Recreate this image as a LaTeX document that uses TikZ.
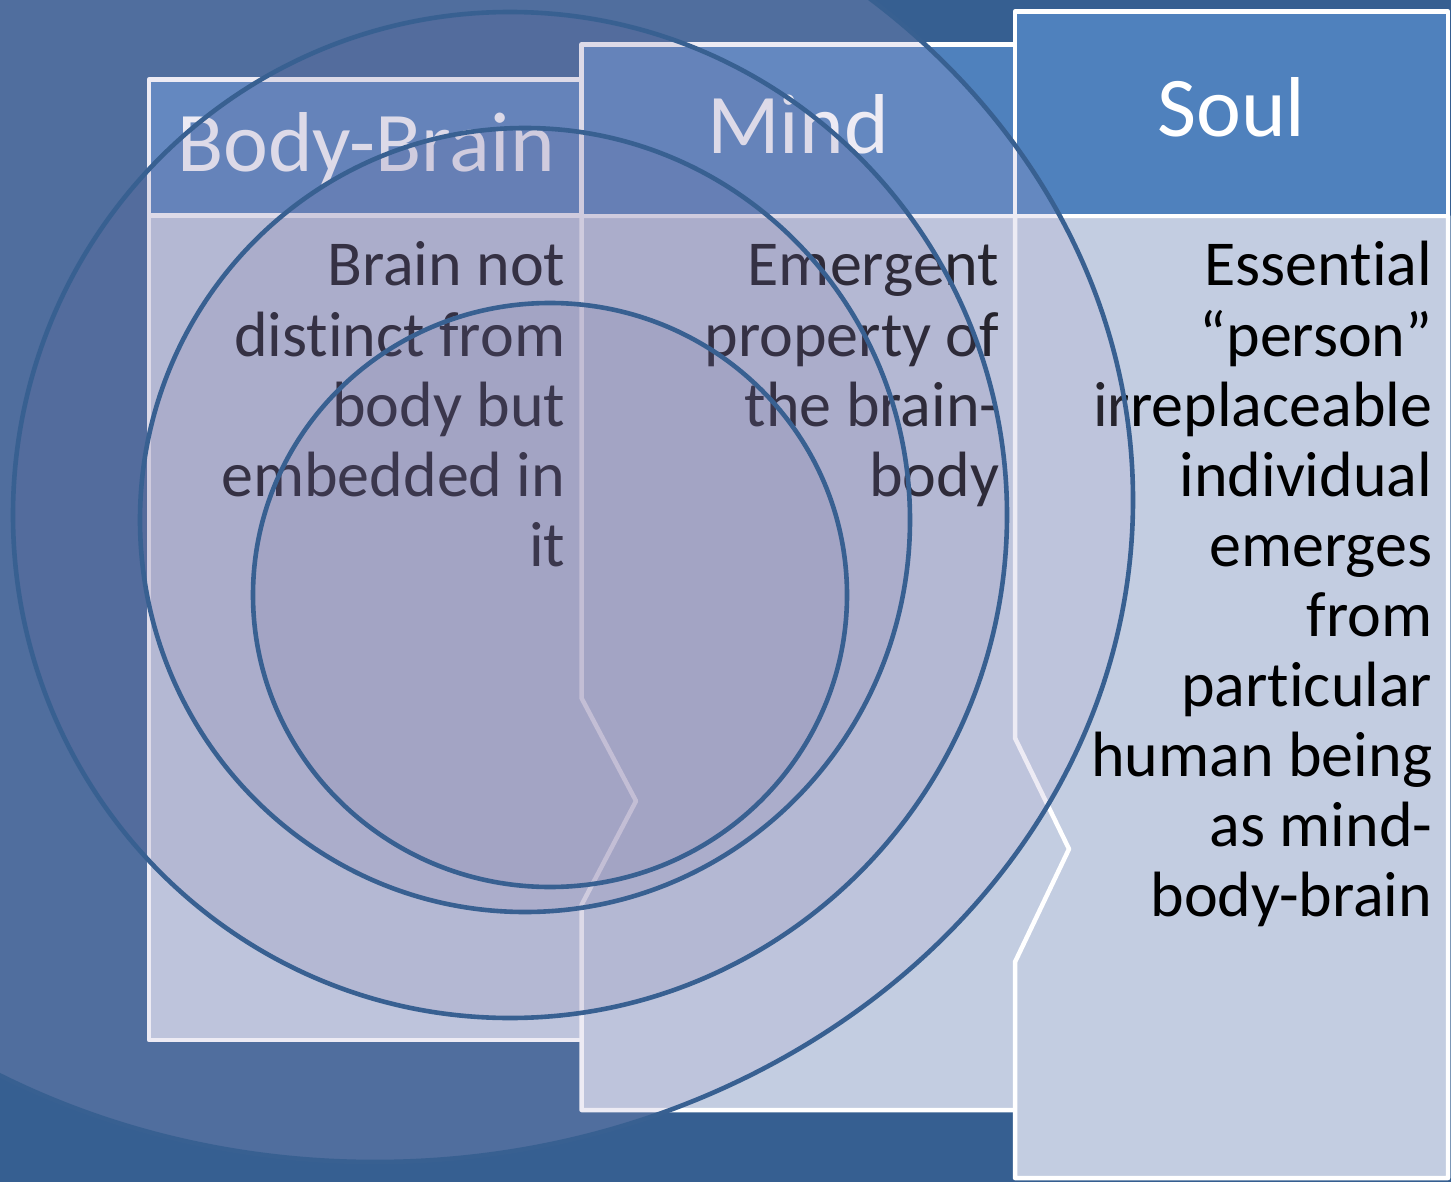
\documentclass[tikz,border=0pt]{standalone}
\usepackage{fontspec}
\setmainfont{Carlito}[Ligatures={NoCommon}]
\definecolor{bgblue}{RGB}{54,95,145}
\definecolor{headblue}{RGB}{79,129,189}
\definecolor{bodyblue}{RGB}{195,205,225}
\definecolor{ringline}{RGB}{56,96,145}
\definecolor{glowfill}{RGB}{175,165,205}
\definecolor{ringfill}{RGB}{110,100,150}
\begin{document}
\begin{tikzpicture}[x=1pt,y=-1pt,
  boxhead/.style={fill=headblue, draw=white, line width=4.5pt, line join=round},
  boxbody/.style={fill=bodyblue, draw=white, line width=4.5pt, line join=round},
  headtext/.style={text=white, font=\fontsize{85}{100}\selectfont, inner sep=0pt, anchor=base},
  bodytext/.style={text=black, font=\fontsize{64}{70}\selectfont, inner sep=0pt, anchor=base east},
  ring/.style={draw=ringline, line width=4.6pt, fill=ringfill, fill opacity=0.12, draw opacity=1},
  glow/.style={draw=ringline, line width=4.6pt, fill=glowfill, fill opacity=0.22, draw opacity=1}]
\useasboundingbox (0,0) rectangle (1451,1182);
\fill[bgblue] (0,0) rectangle (1451,1182);
% box 1
\path[boxbody] (149,215.5) rectangle (640,1040);
\path[boxhead] (149,79.5) rectangle (640,215.5);
% box 2
\path[boxbody] (581.5,216) -- (1075,216) -- (1075,1110) -- (581.5,1110) -- (581.5,905) -- (636,801) -- (581.5,698) -- cycle;
\path[boxhead] (581.5,44.5) rectangle (1075,216);
% box 3
\path[boxbody] (1015,216) -- (1448,216) -- (1448,1178) -- (1015,1178) -- (1015,962) -- (1069,849) -- (1015,738) -- cycle;
\path[boxhead] (1015,11.7) rectangle (1448,216);
% headers
\node[headtext] (t1) at (366,172) {Body-Brain};
\node[headtext] (t2) at (798,154) {Mind};
\node[headtext] (t3) at (1231.5,137) {Soul};
% body texts
\foreach \t [count=\i from 0] in {Brain not, distinct from, body but, embedded in, it}
  \node[bodytext] (a\i) at (565.5,{286+70*\i}) {\t};
\foreach \t [count=\i from 0] in {Emergent, property of, the brain-, body}
  \node[bodytext] (b\i) at (999.5,{286+70*\i}) {\t};
\foreach \t [count=\i from 0] in {Essential, “person”, irreplaceable, individual, emerges, from, particular, human being, as mind-, body-brain}
  \node[bodytext] (c\i) at (1432.5,{286+70*\i}) {\t};
% overlays
\path[glow] (375,500) ellipse [x radius=758pt, y radius=662pt];
\path[ring] (510,515) ellipse [x radius=497pt, y radius=503pt];
\path[ring] (525,520) ellipse [x radius=385pt, y radius=392pt];
\path[ring] (550,595) ellipse [x radius=297pt, y radius=292pt];
\end{tikzpicture}
\end{document}
